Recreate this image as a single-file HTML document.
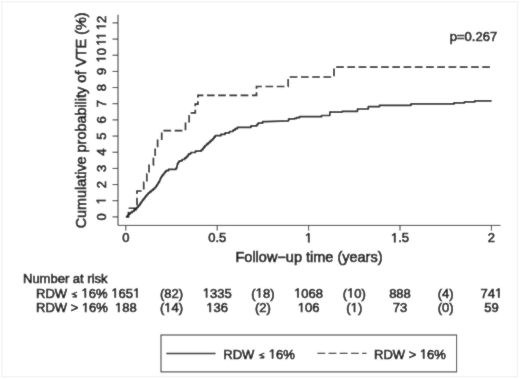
<!DOCTYPE html><html><head><meta charset="utf-8"><style>
html,body{margin:0;padding:0;background:#fff;width:520px;height:379px;overflow:hidden}
svg{display:block;filter:grayscale(1)}
text{font-family:"Liberation Sans", sans-serif;font-size:13px;fill:#0e0e0e;stroke:#0e0e0e;stroke-width:0.6px}
.h{fill-opacity:0;stroke-opacity:0}
.o{fill:#0e0e0e;stroke:#0e0e0e;stroke-width:0.6px;stroke-linejoin:miter}
.le{fill:none;stroke:#0e0e0e;stroke-width:1.25px;stroke-linejoin:miter;stroke-linecap:butt}
</style></head><body>
<svg width="520" height="379" viewBox="0 0 520 379">
<defs><filter id="bl" x="0" y="0" width="520" height="379" filterUnits="userSpaceOnUse"><feConvolveMatrix order="3" kernelMatrix="1 2 1 2 24 2 1 2 1" divisor="36" edgeMode="duplicate" preserveAlpha="false"/></filter></defs>
<g filter="url(#bl)">
<rect x="0" y="0" width="520" height="379" fill="#fff"/>
<rect x="1.8" y="1.8" width="515.7" height="374.9" fill="none" stroke="#f1f1f1" stroke-width="1.2"/>
<g stroke="#2a2a2a" stroke-width="1" fill="none">
<path d="M118 14.7 V225.4 H500.5"/>
<path d="M112.5 216.90 H118 M112.5 200.73 H118 M112.5 184.57 H118 M112.5 168.40 H118 M112.5 152.23 H118 M112.5 136.07 H118 M112.5 119.90 H118 M112.5 103.73 H118 M112.5 87.57 H118 M112.5 71.40 H118 M112.5 55.23 H118 M112.5 39.07 H118 M112.5 22.90 H118 M125.80 225.4 V230.6 M217.20 225.4 V230.6 M308.60 225.4 V230.6 M400.00 225.4 V230.6 M491.40 225.4 V230.6 "/>
</g>
<rect x="161" y="335" width="295.6" height="36.9" fill="none" stroke="#2a2a2a" stroke-width="1"/>
<path d="M166.4 353.5 H215.5" stroke="#141414" stroke-width="1.4" fill="none"/>
<path d="M317.5 353.4 H366.5" stroke="#141414" stroke-width="1.4" fill="none" stroke-dasharray="7.7 3.45"/>
<text id="t0" transform="translate(105.6 216.90) rotate(-90)" text-anchor="middle">0</text>
<text id="t1" transform="translate(105.6 200.73) rotate(-90)" text-anchor="middle"><tspan class="h">1</tspan></text>
<path class="o" transform="translate(105.6 200.73) rotate(-90)" d="M-0.35 0.00 L-0.35 -7.85 L-2.37 -6.41 L-2.37 -7.49 L-0.25 -8.94 L0.80 -8.94 L0.80 0.00Z"/>
<text id="t2" transform="translate(105.6 184.57) rotate(-90)" text-anchor="middle">2</text>
<text id="t3" transform="translate(105.6 168.40) rotate(-90)" text-anchor="middle">3</text>
<text id="t4" transform="translate(105.6 152.23) rotate(-90)" text-anchor="middle">4</text>
<text id="t5" transform="translate(105.6 136.07) rotate(-90)" text-anchor="middle">5</text>
<text id="t6" transform="translate(105.6 119.90) rotate(-90)" text-anchor="middle">6</text>
<text id="t7" transform="translate(105.6 103.73) rotate(-90)" text-anchor="middle">7</text>
<text id="t8" transform="translate(105.6 87.57) rotate(-90)" text-anchor="middle">8</text>
<text id="t9" transform="translate(105.6 71.40) rotate(-90)" text-anchor="middle">9</text>
<text id="t10" transform="translate(105.6 55.23) rotate(-90)" text-anchor="middle"><tspan class="h">1</tspan>0</text>
<path class="o" transform="translate(105.6 55.23) rotate(-90)" d="M-3.97 0.00 L-3.97 -7.85 L-5.98 -6.41 L-5.98 -7.49 L-3.87 -8.94 L-2.82 -8.94 L-2.82 0.00Z"/>
<text id="t11" transform="translate(105.6 39.07) rotate(-90)" text-anchor="middle"><tspan class="h">1</tspan><tspan class="h">1</tspan></text>
<path class="o" transform="translate(105.6 39.07) rotate(-90)" d="M-3.48 0.00 L-3.48 -7.85 L-5.50 -6.41 L-5.50 -7.49 L-3.39 -8.94 L-2.33 -8.94 L-2.33 0.00ZM2.78 0.00 L2.78 -7.85 L0.77 -6.41 L0.77 -7.49 L2.88 -8.94 L3.93 -8.94 L3.93 0.00Z"/>
<text id="t12" transform="translate(105.6 22.90) rotate(-90)" text-anchor="middle"><tspan class="h">1</tspan>2</text>
<path class="o" transform="translate(105.6 22.90) rotate(-90)" d="M-3.97 0.00 L-3.97 -7.85 L-5.98 -6.41 L-5.98 -7.49 L-3.87 -8.94 L-2.82 -8.94 L-2.82 0.00Z"/>
<text id="t13" transform="translate(86.3 120.4) rotate(-90)" text-anchor="middle" style="font-size:14.4px">Cumulative probability of VTE (%)</text>
<text id="t14" x="125.80" y="242.3" text-anchor="middle">0</text>
<text id="t15" x="217.20" y="242.3" text-anchor="middle">0.5</text>
<text id="t16" x="308.60" y="242.3" text-anchor="middle"><tspan class="h">1</tspan></text>
<path class="o" d="M308.25 242.30 L308.25 234.45 L306.23 235.89 L306.23 234.81 L308.35 233.36 L309.40 233.36 L309.40 242.30Z"/>
<text id="t17" x="400.00" y="242.3" text-anchor="middle"><tspan class="h">1</tspan>.5</text>
<path class="o" d="M394.23 242.30 L394.23 234.45 L392.21 235.89 L392.21 234.81 L394.33 233.36 L395.38 233.36 L395.38 242.30Z"/>
<text id="t18" x="491.40" y="242.3" text-anchor="middle">2</text>
<text id="t19" x="309" y="261.8" text-anchor="middle" style="font-size:14.5px">Follow−up time (years)</text>
<text id="t20" x="449.8" y="40.8">p=0.267</text>
<text id="t21" x="23" y="282.7">Number at risk</text>
<text id="t22" x="36" y="297.5">RDW <tspan class="h">≤</tspan> <tspan class="h">1</tspan>6%</text>
<path class="o" d="M84.71 297.50 L84.71 289.65 L82.69 291.09 L82.69 290.01 L84.80 288.56 L85.86 288.56 L85.86 297.50Z"/>
<path class="le" d="M77.02 292.00 L72.51 293.95 L77.02 295.80M72.51 296.93 L77.02 296.93"/>
<text id="t23" x="36" y="312">RDW &gt; <tspan class="h">1</tspan>6%</text>
<path class="o" d="M85.14 312.00 L85.14 304.15 L83.13 305.59 L83.13 304.51 L85.24 303.06 L86.29 303.06 L86.29 312.00Z"/>
<text id="t24" x="125.80" y="297.5" text-anchor="middle"><tspan class="h">1</tspan>65<tspan class="h">1</tspan></text>
<path class="o" d="M114.60 297.50 L114.60 289.65 L112.58 291.09 L112.58 290.01 L114.70 288.56 L115.75 288.56 L115.75 297.50ZM136.30 297.50 L136.30 289.65 L134.28 291.09 L134.28 290.01 L136.40 288.56 L137.45 288.56 L137.45 297.50Z"/>
<text id="t25" x="125.80" y="312" text-anchor="middle"><tspan class="h">1</tspan>88</text>
<path class="o" d="M118.22 312.00 L118.22 304.15 L116.20 305.59 L116.20 304.51 L118.31 303.06 L119.37 303.06 L119.37 312.00Z"/>
<text id="t26" x="171.50" y="297.5" text-anchor="middle">(82)</text>
<text id="t27" x="171.50" y="312" text-anchor="middle">(<tspan class="h">1</tspan>4)</text>
<path class="o" d="M167.54 312.00 L167.54 304.15 L165.52 305.59 L165.52 304.51 L167.64 303.06 L168.69 303.06 L168.69 312.00Z"/>
<text id="t28" x="217.20" y="297.5" text-anchor="middle"><tspan class="h">1</tspan>335</text>
<path class="o" d="M206.00 297.50 L206.00 289.65 L203.98 291.09 L203.98 290.01 L206.10 288.56 L207.15 288.56 L207.15 297.50Z"/>
<text id="t29" x="217.20" y="312" text-anchor="middle"><tspan class="h">1</tspan>36</text>
<path class="o" d="M209.62 312.00 L209.62 304.15 L207.60 305.59 L207.60 304.51 L209.71 303.06 L210.77 303.06 L210.77 312.00Z"/>
<text id="t30" x="262.90" y="297.5" text-anchor="middle">(<tspan class="h">1</tspan>8)</text>
<path class="o" d="M258.94 297.50 L258.94 289.65 L256.92 291.09 L256.92 290.01 L259.04 288.56 L260.09 288.56 L260.09 297.50Z"/>
<text id="t31" x="262.90" y="312" text-anchor="middle">(2)</text>
<text id="t32" x="308.60" y="297.5" text-anchor="middle"><tspan class="h">1</tspan>068</text>
<path class="o" d="M297.40 297.50 L297.40 289.65 L295.38 291.09 L295.38 290.01 L297.50 288.56 L298.55 288.56 L298.55 297.50Z"/>
<text id="t33" x="308.60" y="312" text-anchor="middle"><tspan class="h">1</tspan>06</text>
<path class="o" d="M301.02 312.00 L301.02 304.15 L299.00 305.59 L299.00 304.51 L301.11 303.06 L302.17 303.06 L302.17 312.00Z"/>
<text id="t34" x="354.30" y="297.5" text-anchor="middle">(<tspan class="h">1</tspan>0)</text>
<path class="o" d="M350.34 297.50 L350.34 289.65 L348.32 291.09 L348.32 290.01 L350.44 288.56 L351.49 288.56 L351.49 297.50Z"/>
<text id="t35" x="354.30" y="312" text-anchor="middle">(<tspan class="h">1</tspan>)</text>
<path class="o" d="M353.95 312.00 L353.95 304.15 L351.93 305.59 L351.93 304.51 L354.05 303.06 L355.10 303.06 L355.10 312.00Z"/>
<text id="t36" x="400.00" y="297.5" text-anchor="middle">888</text>
<text id="t37" x="400.00" y="312" text-anchor="middle">73</text>
<text id="t38" x="445.70" y="297.5" text-anchor="middle">(4)</text>
<text id="t39" x="445.70" y="312" text-anchor="middle">(0)</text>
<text id="t40" x="491.40" y="297.5" text-anchor="middle">74<tspan class="h">1</tspan></text>
<path class="o" d="M498.29 297.50 L498.29 289.65 L496.27 291.09 L496.27 290.01 L498.38 288.56 L499.44 288.56 L499.44 297.50Z"/>
<text id="t41" x="491.40" y="312" text-anchor="middle">59</text>
<text id="t42" x="223.3" y="358.5">RDW <tspan class="h">≤</tspan> <tspan class="h">1</tspan>6%</text>
<path class="o" d="M272.01 358.50 L272.01 350.65 L269.99 352.09 L269.99 351.01 L272.10 349.56 L273.16 349.56 L273.16 358.50Z"/>
<path class="le" d="M264.32 353.00 L259.81 354.95 L264.32 356.80M259.81 357.93 L264.32 357.93"/>
<text id="t43" x="374" y="358.5">RDW &gt; <tspan class="h">1</tspan>6%</text>
<path class="o" d="M423.14 358.50 L423.14 350.65 L421.13 352.09 L421.13 351.01 L423.24 349.56 L424.29 349.56 L424.29 358.50Z"/>
<path d="M125.80 216.90 L127.25 216.90 L127.25 215.50 L128.43 215.50 L128.43 214.10 L130.04 214.10 L130.04 212.70 L132.02 212.70 L132.02 211.30 L134.13 211.30 L134.13 209.90 L135.90 209.90 L135.90 208.50 L137.09 208.50 L137.09 207.10 L138.30 207.10 L138.30 205.70 L139.52 205.70 L139.52 204.30 L140.43 204.30 L140.43 202.90 L141.34 202.90 L141.34 201.50 L142.39 201.50 L142.39 200.10 L143.49 200.10 L143.49 198.70 L144.58 198.70 L144.58 197.30 L145.63 197.30 L145.63 195.90 L146.68 195.90 L146.68 194.50 L148.11 194.50 L148.11 193.10 L149.65 193.10 L149.65 191.70 L151.34 191.70 L151.34 190.30 L153.12 190.30 L153.12 188.90 L154.56 188.90 L154.56 187.50 L155.91 187.50 L155.91 186.10 L156.83 186.10 L156.83 184.70 L157.68 184.70 L157.68 183.30 L158.58 183.30 L158.58 181.90 L159.48 181.90 L159.48 180.50 L160.06 180.50 L160.06 179.10 L160.63 179.10 L160.63 177.70 L161.38 177.70 L161.38 176.30 L162.44 176.30 L162.44 174.90 L163.50 174.90 L163.50 173.50 L164.64 173.50 L164.64 172.10 L165.83 172.10 L165.83 170.70 L168.48 170.70 L168.48 169.30 L176.08 169.30 L176.08 167.90 L176.83 167.90 L176.83 166.50 L177.13 166.50 L177.13 165.10 L177.43 165.10 L177.43 163.70 L178.10 163.70 L178.10 162.30 L179.25 162.30 L179.25 160.90 L182.01 160.90 L182.01 159.50 L184.61 159.50 L184.61 158.10 L186.35 158.10 L186.35 156.70 L187.64 156.70 L187.64 155.30 L188.61 155.30 L188.61 153.90 L190.66 153.90 L190.66 152.50 L195.46 152.50 L195.46 151.10 L201.41 151.10 L201.41 149.70 L202.81 149.70 L202.81 148.30 L203.83 148.30 L203.83 146.90 L204.93 146.90 L204.93 145.50 L206.58 145.50 L206.58 144.10 L208.21 144.10 L208.21 142.70 L209.78 142.70 L209.78 141.30 L211.34 141.30 L211.34 139.90 L212.71 139.90 L212.71 138.50 L213.96 138.50 L213.96 137.10 L215.21 137.10 L215.21 135.70 L220.84 135.70 L220.84 134.30 L225.12 134.30 L225.12 132.90 L229.48 132.90 L229.48 131.50 L233.09 131.50 L233.09 130.10 L235.13 130.10 L235.13 128.70 L237.35 128.70 L237.35 127.30 L250.97 127.30 L250.97 125.90 L256.70 125.90 L256.70 124.50 L258.10 124.50 L258.10 123.10 L262.62 123.10 L262.62 121.70 L265.40 121.70 L288.6 120.8 L288.6 118.8 L294.6 118.8 L294.6 118.4 L296.6 118.4 L296.6 117.7 L299.5 117.7 L299.5 116.7 L321.5 116.7 L321.5 115.5 L329.8 115.5 L329.8 112.1 L342.2 112.1 L342.2 111.3 L357.5 111.3 L357.5 109.0 L368.3 109.0 L368.3 106.6 L379.5 106.6 L379.5 105.3 L411.0 105.3 L411.0 103.9 L454.0 103.9 L454.0 102.8 L464.5 102.8 L464.5 101.8 L474.8 101.8 L474.8 100.8 L491.6 100.8" stroke="#141414" stroke-width="1.7" fill="none" stroke-linejoin="round"/>
<path d="M125.80 216.90 L128.50 216.90 L128.50 208.27 L137.00 208.27 L137.00 199.64 L137.00 191.01 L143.70 191.01 L143.70 182.38 L146.80 182.38 L146.80 173.75 L149.10 173.75 L149.10 165.12 L153.40 165.12 L153.40 156.49 L155.20 156.49 L155.20 147.86 L157.60 147.86 L157.60 139.23 L161.70 139.23 L161.70 130.60 L185.50 130.60 L185.50 121.70 L189.20 121.70 L189.20 112.90 L195.30 112.90 L195.30 104.10 L197.90 104.10 L197.90 95.40 L256.50 95.40 L256.50 86.50 L288.20 86.50 L288.20 77.00 L334.00 77.00 L334.00 67.20 L491.40 67.20" stroke="#141414" stroke-width="1.7" fill="none" stroke-dasharray="7.7 3.543" stroke-dashoffset="10.993"/>
</g></svg></body></html>
